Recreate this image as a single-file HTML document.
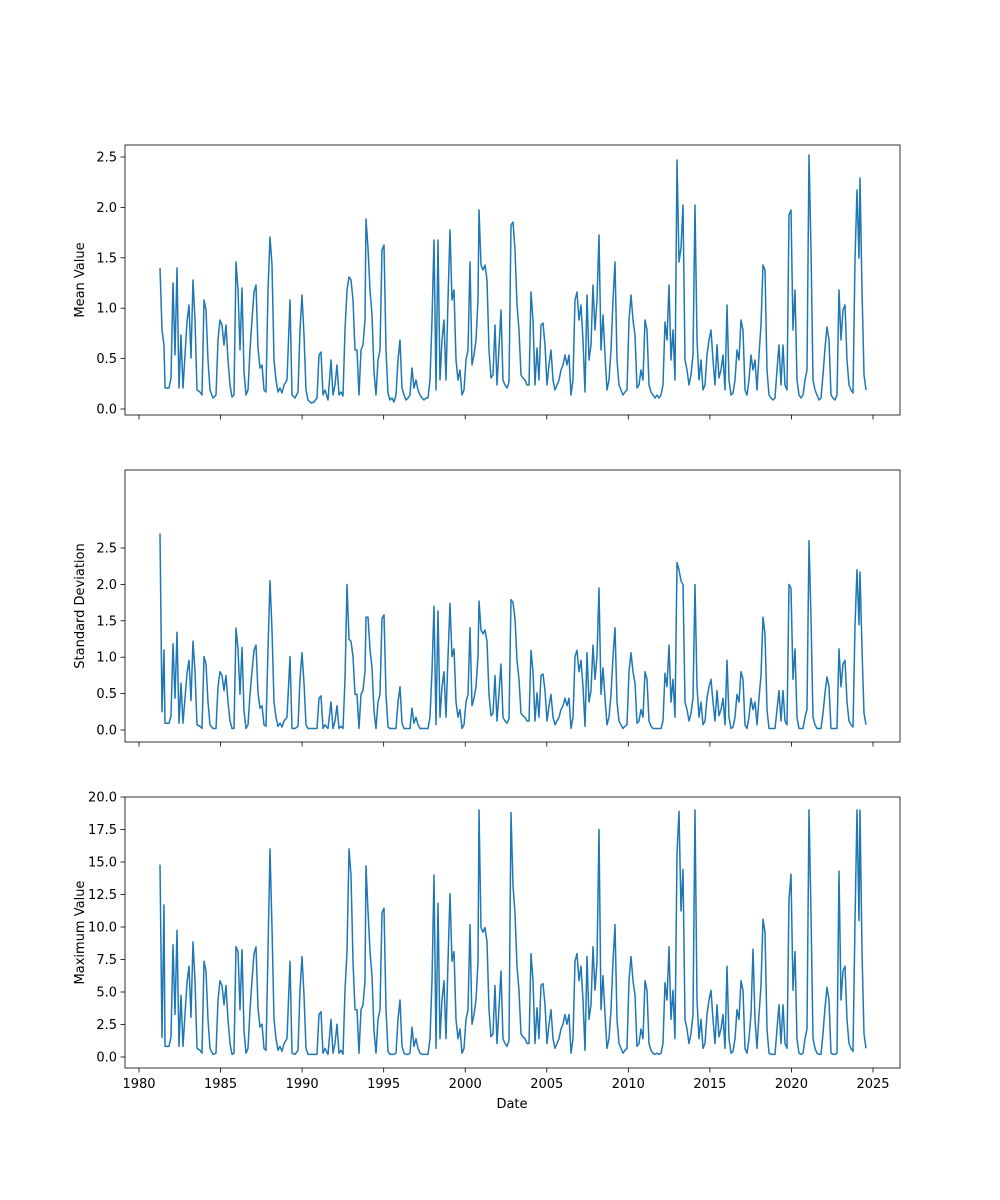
<!DOCTYPE html>
<html><head><meta charset="utf-8"><style>
html,body{margin:0;padding:0;background:#fff;}
svg{display:block;font-family:"DejaVu Sans","Liberation Sans",sans-serif;}
</style></head><body>
<svg id="s" width="1000" height="1200" xmlns="http://www.w3.org/2000/svg"></svg>
<script>
(function(){
var S=document.getElementById('s'),NS='http://www.w3.org/2000/svg';
function el(t,a,txt){var e=document.createElementNS(NS,t);for(var k in a)e.setAttribute(k,a[k]);if(txt!=null)e.textContent=txt;S.appendChild(e);return e;}
var L=125,R=900;
function xp(yr){return 139+(yr-1980)*(873-139)/45;}
var TOPD=[160,268,162,330,164,345,165,388,169,388,171,378,173,283,175,355,177,268,179,388,181,335,183,388,185,355,187,322,189,305,191,358,193,280,195,320,197,390,200,392,202,395,204,300,206,310,208,360,210,390,213,398,216,395,218,340,220,320,222,325,224,345,226,325,228,360,230,385,232,397,234,395,236,262,238,290,240,350,242,288,244,372,246,395,248,390,250,350,252,320,254,292,256,285,258,348,260,368,262,365,264,390,266,392,268,290,270,237,272,265,274,360,276,380,278,392,280,388,282,393,284,385,287,380,290,300,292,395,295,398,298,392,300,330,302,295,304,335,306,390,308,400,311,403,314,402,317,398,319,355,321,352,323,395,325,390,328,400,331,360,333,395,335,385,337,365,339,395,341,392,343,396,345,330,347,290,349,277,351,280,353,300,355,350,357,350,359,395,361,350,363,345,365,320,366,219,368,248,370,290,372,315,374,372,376,395,378,360,380,350,382,250,384,245,386,350,388,393,390,400,392,398,394,402,396,395,398,360,400,340,402,388,404,395,406,400,408,398,410,395,412,368,414,388,416,380,418,390,420,395,422,398,424,400,426,398,428,398,430,380,432,320,434,240,436,390,438,240,440,380,442,340,444,320,446,380,448,300,450,230,452,300,454,290,456,360,458,380,460,370,462,395,464,390,466,360,468,350,470,262,472,365,474,355,476,340,478,300,479,210,481,265,483,270,485,265,487,280,489,350,491,378,493,375,495,325,497,385,499,348,501,310,503,380,505,385,507,388,509,382,511,225,513,222,515,250,517,305,519,330,521,375,523,378,525,380,527,385,529,385,531,292,533,320,535,385,537,348,539,380,541,325,543,323,545,345,547,385,549,365,551,350,553,380,555,390,557,385,559,380,561,370,563,365,565,355,567,365,569,355,571,395,573,380,575,300,577,292,579,320,581,305,583,340,585,392,587,295,589,360,591,345,593,285,595,330,597,300,599,235,601,350,603,315,605,355,607,390,609,380,611,350,613,300,615,262,617,360,619,385,621,390,623,395,625,392,627,390,629,320,631,295,633,320,635,335,637,388,639,385,641,370,643,380,645,320,647,330,649,385,651,392,653,395,655,398,657,395,659,398,661,395,663,385,665,322,667,340,669,285,671,360,673,330,675,380,677,160,679,262,681,248,683,205,685,360,687,370,689,385,691,375,693,355,695,205,697,340,699,380,701,360,703,390,705,385,707,355,709,340,711,330,713,360,715,385,717,345,719,378,721,370,723,355,725,390,727,305,729,380,731,395,733,393,735,380,737,350,739,360,741,320,743,330,745,390,747,395,749,380,751,355,753,370,755,360,757,390,759,355,761,325,763,265,765,270,767,370,769,395,771,398,773,400,775,398,777,370,779,345,781,385,783,345,785,385,787,390,789,215,791,210,793,330,795,290,797,380,799,395,801,398,803,395,805,380,807,370,809,155,811,250,813,380,815,390,817,395,819,400,821,398,823,375,825,348,827,327,829,340,831,395,833,398,835,400,837,395,839,290,841,340,843,310,845,305,847,360,849,385,851,390,853,393,855,260,857,190,859,258,860,178,862,290,864,375,866,390];
var panels=[
 {y0:145,y1:415,ticks:[0,0.5,1,1.5,2,2.5],py:function(v){return 409-v*100.8;},lab:'Mean Value'},
 {y0:470,y1:742,ticks:[0,0.5,1,1.5,2,2.5],py:function(v){return 730-v*72.8;},lab:'Standard Deviation'},
 {y0:797,y1:1068,ticks:[0,2.5,5,7.5,10,12.5,15,17.5,20],py:function(v){return 1057-v*13;},lab:'Maximum Value'}];
var ov=[{},{160:2.7,162:0.25,164:1.1,366:1.55,437:2.65,434:1.7,677:2.3,679:2.2,681:2.05,809:2.6,857:2.2,860:2.17,763:1.55,789:2.0,599:1.95,513:1.75,479:1.77,347:2.0,270:2.05,236:1.4},
 {160:14.8,162:1.5,164:11.7,437:18.1,434:14,479:19,511:18.8,599:17.5,677:15.7,679:18.9,695:19,809:19,857:19,860:19,366:14.7,349:16,351:14,270:16,236:8.5,753:8.3,763:10.6,789:12.1,839:14.3}];
panels.forEach(function(p,i){
 el('rect',{x:L,y:p.y0,width:R-L,height:p.y1-p.y0,fill:'none',stroke:'#000','stroke-width':0.8});
 p.ticks.forEach(function(t){var y=p.py(t);el('line',{x1:L-4.5,x2:L,y1:y,y2:y,stroke:'#000','stroke-width':0.8});
  el('text',{x:L-8,y:y+4.5,'text-anchor':'end','font-size':13,fill:'#000'},t.toFixed(1));});
 for(var yr=1980;yr<=2025;yr+=5){var x=xp(yr);el('line',{x1:x,x2:x,y1:p.y1,y2:p.y1+4.5,stroke:'#000','stroke-width':0.8});
  if(i==2)el('text',{x:x,y:p.y1+20,'text-anchor':'middle','font-size':13,fill:'#000'},yr);}
 var yc=(p.y0+p.y1)/2;
 el('text',{x:84,y:yc,'text-anchor':'middle','font-size':13,fill:'#000',transform:'rotate(-90 84 '+yc+')'},p.lab);
 var pts=[];
 for(var k=0;k<TOPD.length;k+=2){var x=TOPD[k],v=(409-TOPD[k+1])/100.8,val;
  if(i==0)val=v;else if(i==1)val=Math.max(0.02,(v-0.12)*1.05);else val=Math.max(0.2,(v-0.1)*7.5);
  if(ov[i][x]!=null)val=ov[i][x];
  pts.push(x+','+p.py(val).toFixed(1));}
 el('polyline',{points:pts.join(' '),fill:'none',stroke:'#1f77b4','stroke-width':1.5,'stroke-linejoin':'round'});
});
el('text',{x:512,y:1108,'text-anchor':'middle','font-size':13,fill:'#000'},'Date');
})();
</script>
</body></html>
